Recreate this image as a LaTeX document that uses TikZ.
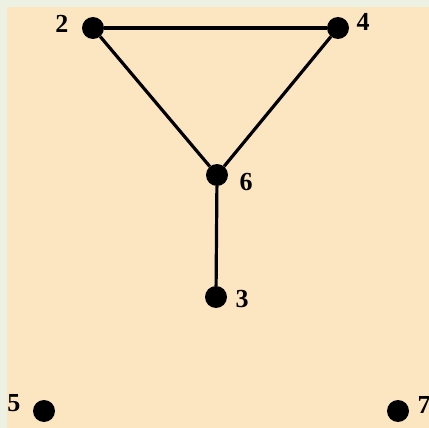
\documentclass[tikz,border=0pt]{standalone}
\usepackage{fontspec}
\setmainfont{Liberation Serif}
\begin{document}
\begin{tikzpicture}[x=1pt, y=-1pt,
  vtx/.style={circle, fill=black, inner sep=0pt, minimum size=22pt},
  lbl/.style={font=\fontsize{26}{26}\selectfont\bfseries, inner sep=0pt}]
\definecolor{paper}{HTML}{FCE6C2}
\definecolor{rim}{HTML}{EDF1E4}
\useasboundingbox (0,0) rectangle (429,428);
\fill[rim] (0,0) rectangle (429,428);
\fill[paper] (7,7) rectangle (429,428);
\begin{scope}
\clip (0,0) rectangle (429,428);
\node[vtx] (v2) at (93,28)   {};
\node[vtx] (v4) at (338,28)  {};
\node[vtx] (v6) at (217,175) {};
\node[vtx] (v3) at (216,297) {};
\node[vtx] (v5) at (44,411)  {};
\node[vtx] (v7) at (398,411) {};
\node[lbl] at (62,24)   {2};
\node[lbl] at (363,22)  {4};
\node[lbl] at (246,182) {6};
\node[lbl] at (242,299) {3};
\node[lbl] at (14,403)  {5};
\node[lbl] at (424,405) {7};
\foreach \a/\b in {v2/v4,v2/v6,v4/v6,v6/v3} {\draw[line width=3.2pt] (\a) -- (\b);}
\end{scope}
\end{tikzpicture}
\end{document}
